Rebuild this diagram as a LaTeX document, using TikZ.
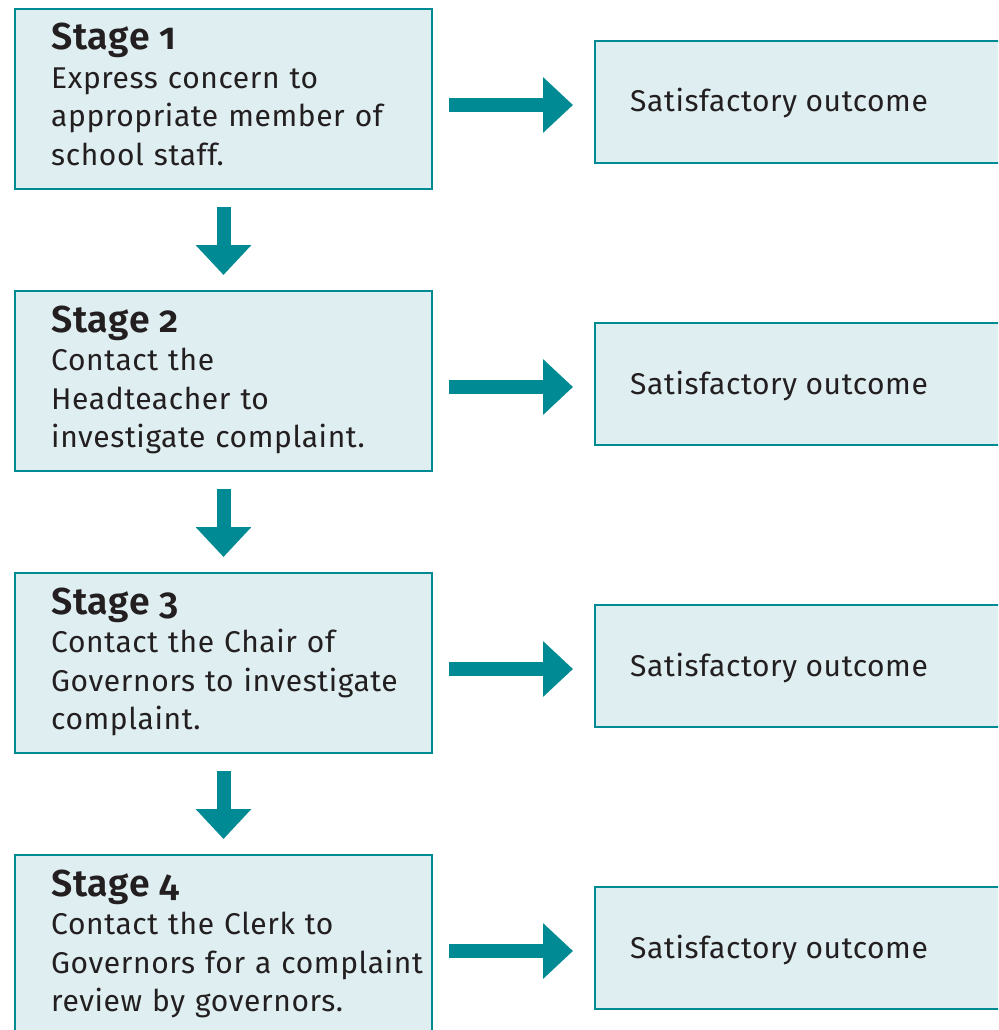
\documentclass[tikz,border=0pt]{standalone}
\usepackage{fontspec}
\setmainfont{Fira Sans}[Numbers=OldStyle, LetterSpace=2, BoldFont=Fira Sans SemiBold]
\usetikzlibrary{positioning,arrows.meta}
\definecolor{tealline}{RGB}{0,139,148}
\definecolor{boxfill}{RGB}{223,238,241}
\definecolor{inkdark}{RGB}{35,31,32}
\tikzset{
  stagebox/.style={draw=tealline, fill=boxfill, line width=2pt, minimum width=417pt,
    minimum height=180pt, inner sep=0pt, outer sep=0pt, anchor=north west},
  outcomebox/.style={draw=tealline, fill=boxfill, line width=2pt, minimum width=420pt,
    minimum height=122pt, inner sep=0pt, outer sep=0pt, anchor=north west},
  stagetext/.style={anchor=base west, text width=380pt, align=left, inner sep=0pt,
    text=inkdark, font=\fontsize{30}{38.5}\selectfont},
  outcometext/.style={anchor=base west, inner sep=0pt, text=inkdark,
    font=\fontsize{30}{38.5}\selectfont},
  flowarrow/.style={draw=tealline, line width=14pt,
    -{Triangle[length=30pt, width=54pt]}},
}
\newcommand{\stagetitle}[1]{{\fontsize{37.5}{38.5}\selectfont\bfseries Stage #1}}
\begin{document}
\begin{tikzpicture}[x=1pt, y=-1pt]
    \clip (0,0) rectangle (998,1030);

    % Stage boxes
    \node[stagebox] (s1) at (15,9) {};
    \node[stagebox] (s2) at (15,291) {};
    \node[stagebox] (s3) at (15,573) {};
    \node[stagebox] (s4) at (15,855) {};

    % Outcome boxes
    \node[outcomebox] (o1) at (595,41) {};
    \node[outcomebox] (o2) at (595,323) {};
    \node[outcomebox] (o3) at (595,605) {};
    \node[outcomebox] (o4) at (595,887) {};

    % Stage texts
    \node[stagetext] (t1) at (51,50) {\stagetitle{1}\\Express concern to\\appropriate member of\\school staff.};
    \node[stagetext] (t2) at (51,332) {\stagetitle{2}\\Contact the\\Headteacher to\\investigate complaint.};
    \node[stagetext] (t3) at (51,614) {\stagetitle{3}\\Contact the Chair of\\Governors to investigate\\complaint.};
    \node[stagetext] (t4) at (51,896) {\stagetitle{4}\\Contact the Clerk to\\Governors for a complaint\\review by governors.};

    % Outcome texts
    \node[outcometext] (u1) at (630,112) {Satisfactory outcome};
    \node[outcometext] (u2) at (630,394) {Satisfactory outcome};
    \node[outcometext] (u3) at (630,676) {Satisfactory outcome};
    \node[outcometext] (u4) at (630,958) {Satisfactory outcome};

    % Arrows to outcomes
    \draw[flowarrow] ([shift={(17,6)}]s1.east) -- ([shift={(-22,3)}]o1.west);
    \draw[flowarrow] ([shift={(17,6)}]s2.east) -- ([shift={(-22,3)}]o2.west);
    \draw[flowarrow] ([shift={(17,6)}]s3.east) -- ([shift={(-22,3)}]o3.west);
    \draw[flowarrow] ([shift={(17,6)}]s4.east) -- ([shift={(-22,3)}]o4.west);

    % Arrows between stages
    \draw[flowarrow] ([shift={(0,18)}]s1.south) -- ([shift={(0,-16)}]s2.north);
    \draw[flowarrow] ([shift={(0,18)}]s2.south) -- ([shift={(0,-16)}]s3.north);
    \draw[flowarrow] ([shift={(0,18)}]s3.south) -- ([shift={(0,-16)}]s4.north);
\end{tikzpicture}
\end{document}
